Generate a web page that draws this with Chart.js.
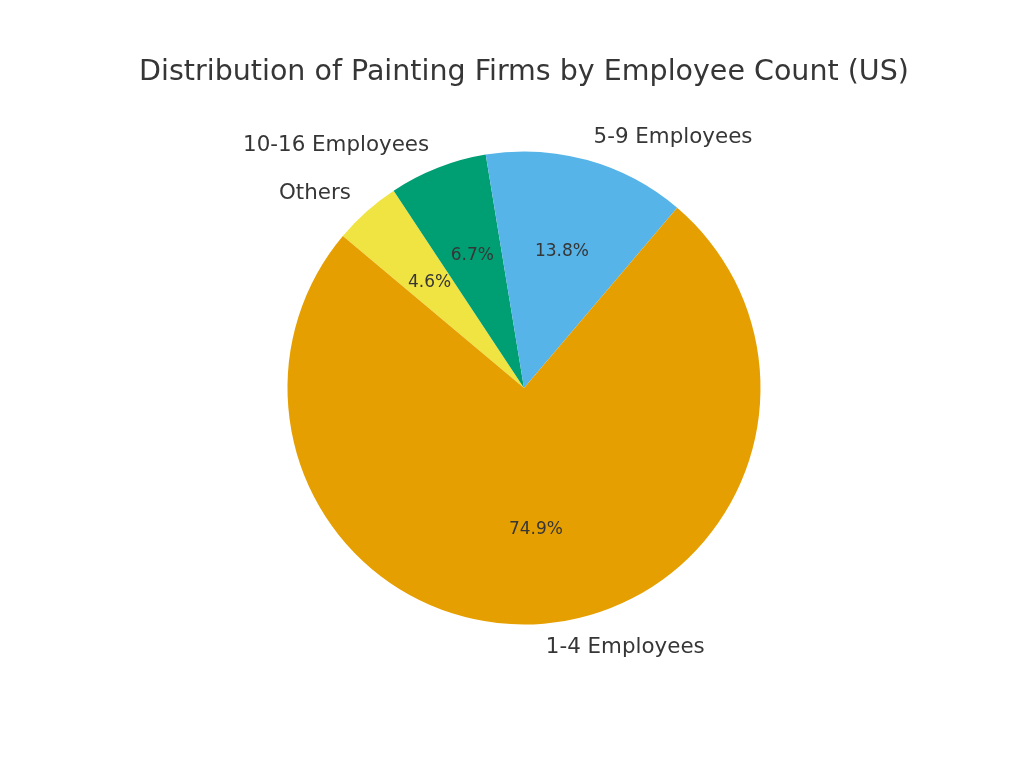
<!DOCTYPE html>
<html>
<head>
<meta charset="utf-8">
<script src="https://cdn.jsdelivr.net/npm/chart.js@4/dist/chart.umd.min.js"></script>
<style>
  html, body { margin: 0; padding: 0; background: #fff; }
  #wrap { width: 1024px; height: 768px; }
</style>
</head>
<body>
<div id="wrap"><canvas id="pie" width="1024" height="768"></canvas></div>
<script>
// data, in the order of the source table
var categories = ["1-4 Employees", "5-9 Employees", "10-16 Employees", "Others"];
var shares = [74.9, 13.8, 6.7, 4.6];
var colors = ["#E69F00", "#56B4E9", "#009E73", "#F0E442"];
var chartTitle = "Distribution of Painting Firms by Employee Count (US)";

// Chart.js draws clockwise, the source goes counter-clockwise -> reverse
var order = [3, 2, 1, 0];
var labels = order.map(function (i) { return categories[i]; });
var values = order.map(function (i) { return shares[i]; });
var fills = order.map(function (i) { return colors[i]; });

var textColor = "#363636";
var fontFamily = "'DejaVu Sans', sans-serif";

var pieLabels = {
  id: 'pieLabels',
  afterDatasetsDraw: function (chart) {
    var ctx = chart.ctx;
    var meta = chart.getDatasetMeta(0);
    ctx.save();
    ctx.fillStyle = textColor;
    meta.data.forEach(function (arc, i) {
      var mid = (arc.startAngle + arc.endAngle) / 2;
      var r = arc.outerRadius;
      var c = Math.cos(mid), s = Math.sin(mid);
      // outside category label
      ctx.font = "21.4px " + fontFamily;
      ctx.textBaseline = 'middle';
      ctx.textAlign = c > 0 ? 'left' : 'right';
      ctx.fillText(chart.data.labels[i], arc.x + c * r * 1.1, arc.y + s * r * 1.1);
      // percentage inside
      ctx.font = "17px " + fontFamily;
      ctx.textAlign = 'center';
      var v = chart.data.datasets[0].data[i];
      ctx.fillText(v.toFixed(1) + "%", arc.x + c * r * 0.6, arc.y + s * r * 0.6);
    });
    // title
    ctx.font = "28.5px " + fontFamily;
    ctx.textAlign = 'center';
    ctx.textBaseline = 'middle';
    ctx.fillText(chartTitle, meta.data[0].x, 73);
    ctx.restore();
  }
};

new Chart(document.getElementById('pie'), {
  type: 'pie',
  data: {
    labels: labels,
    datasets: [{
      data: values,
      backgroundColor: fills,
      borderWidth: 0,
      hoverOffset: 0
    }]
  },
  options: {
    responsive: false,
    animation: false,
    rotation: -50,
    layout: { padding: { left: 287.5, right: 263.5, top: 151.5, bottom: 143.5 } },
    plugins: {
      legend: { display: false },
      tooltip: { enabled: false },
      title: { display: false }
    }
  },
  plugins: [pieLabels]
});
</script>
</body>
</html>
